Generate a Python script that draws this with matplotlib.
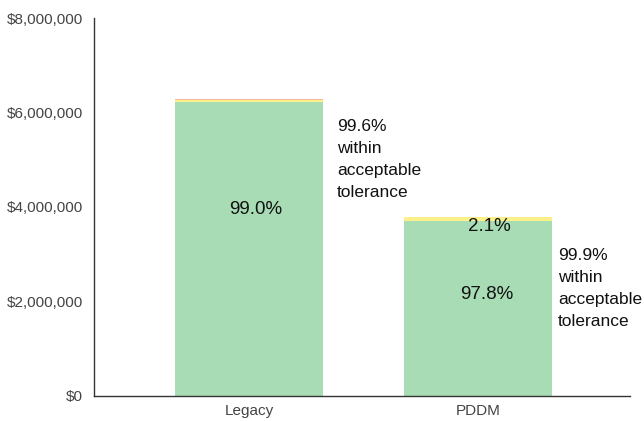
import numpy as np
import matplotlib
matplotlib.use("Agg")
import matplotlib.pyplot as plt
from matplotlib.ticker import FuncFormatter

plt.rcParams['font.family'] = ['Liberation Sans', 'DejaVu Sans']

categories = ["Legacy", "PDDM"]
totals = [6280000, 3790000]
pct_green = [99.0, 97.8]
pct_yellow = [0.6, 2.1]
pct_red = [0.4, 0.1]
within_tol = ["99.6%", "99.9%"]

# in-bar labels: (text, x, y)
bar_labels = ["99.0%", "97.8%", "2.1%"]
bar_label_x = [0.03, 1.037, 1.05]
bar_label_y = [3940000, 2140000, 3580000]
# side notes
note_x = [0.385, 1.35]
note_y = [5870000, 3140000]

green = np.array(totals) * np.array(pct_green) / 100
yellow = np.array(totals) * np.array(pct_yellow) / 100
red = np.array(totals) * np.array(pct_red) / 100

fig = plt.figure(figsize=(6.44, 4.21), dpi=100)
ax = fig.add_axes([94/644, 25/421, 536/644, 378/421])

x = np.arange(len(categories))
w = 0.646
ax.bar(x, green, w, color="#a8dcb5")
ax.bar(x, yellow, w, bottom=green, color="#fbf08a")
ax.bar(x, red, w, bottom=green + yellow, color="#f7b39c")

for t, lx, ly in zip(bar_labels, bar_label_x, bar_label_y):
    ax.text(lx, ly, t, ha="center", va="center", fontsize=13.5, color="#111111")

for i in range(len(categories)):
    ax.text(note_x[i], note_y[i],
            within_tol[i] + "\nwithin\nacceptable\ntolerance",
            ha="left", va="top", fontsize=12.5, color="#111111", linespacing=1.58)

ax.set_ylim(0, 8000000)
ax.set_xlim(-0.677, 1.664)
ax.set_yticks([0, 2000000, 4000000, 6000000, 8000000])
ax.yaxis.set_major_formatter(FuncFormatter(lambda v, p: "${:,.0f}".format(v)))
ax.set_xticks(x)
ax.set_xticklabels(categories)
ax.tick_params(axis="both", length=0, labelsize=11, labelcolor="#444444", pad=8)
ax.tick_params(axis="x", pad=6)
for s in ["top", "right"]:
    ax.spines[s].set_visible(False)
for s in ["left", "bottom"]:
    ax.spines[s].set_color("#333333")
    ax.spines[s].set_linewidth(1.0)

plt.savefig("out.png", dpi=100)
